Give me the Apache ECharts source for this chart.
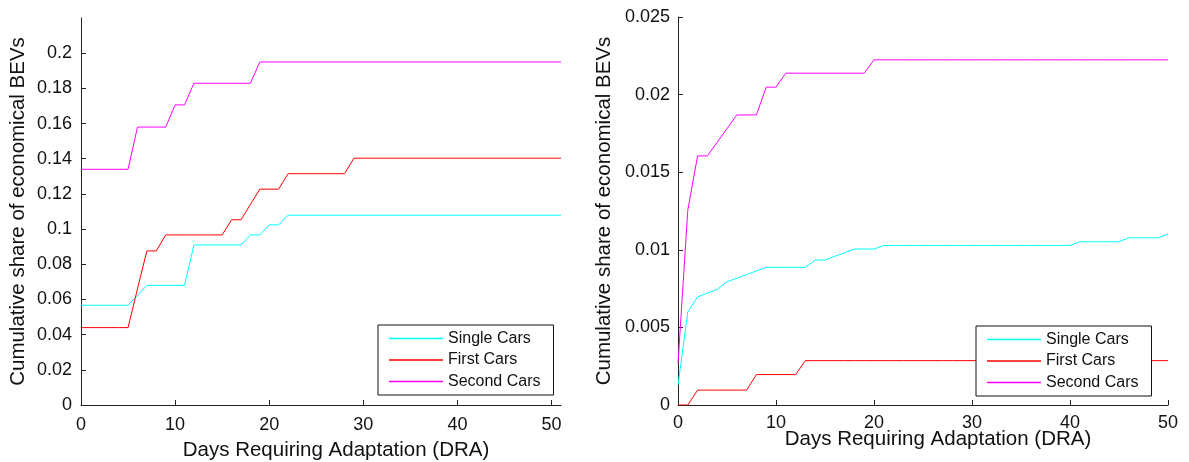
<!DOCTYPE html>
<html>
<head>
<meta charset="utf-8">
<script src="https://cdn.jsdelivr.net/npm/echarts@6/dist/echarts.min.js"></script>
<style>
html,body{margin:0;padding:0;background:#fff;}
#c{width:1189px;height:462px;}
</style>
</head>
<body>
<div id="c"></div>
<script>
// ---- Data ----
const seriesNames = ['Single Cars', 'First Cars', 'Second Cars'];
const seriesColors = ['#00ffff', '#ff0000', '#ff00ff'];

// Left panel: days 0..51
const leftDays = [0,1,2,3,4,5,6,7,8,9,10,11,12,13,14,15,16,17,18,19,20,21,22,23,24,25,26,27,28,29,30,31,32,33,34,35,36,37,38,39,40,41,42,43,44,45,46,47,48,49,50,51];
const leftSingle = [0.0567,0.0567,0.0567,0.0567,0.0567,0.0567,0.0624,0.068,0.068,0.068,0.068,0.068,0.091,0.091,0.091,0.091,0.091,0.091,0.0967,0.0967,0.1024,0.1024,0.1079,0.1079,0.1079,0.1079,0.1079,0.1079,0.1079,0.1079,0.1079,0.1079,0.1079,0.1079,0.1079,0.1079,0.1079,0.1079,0.1079,0.1079,0.1079,0.1079,0.1079,0.1079,0.1079,0.1079,0.1079,0.1079,0.1079,0.1079,0.1079,0.1079];
const leftFirst = [0.044,0.044,0.044,0.044,0.044,0.044,0.066,0.0876,0.0876,0.0967,0.0967,0.0967,0.0967,0.0967,0.0967,0.0967,0.1053,0.1053,0.114,0.1227,0.1227,0.1227,0.1315,0.1315,0.1315,0.1315,0.1315,0.1315,0.1315,0.1403,0.1403,0.1403,0.1403,0.1403,0.1403,0.1403,0.1403,0.1403,0.1403,0.1403,0.1403,0.1403,0.1403,0.1403,0.1403,0.1403,0.1403,0.1403,0.1403,0.1403,0.1403,0.1403];
const leftSecond = [0.134,0.134,0.134,0.134,0.134,0.134,0.158,0.158,0.158,0.158,0.1706,0.1706,0.1829,0.1829,0.1829,0.1829,0.1829,0.1829,0.1829,0.195,0.195,0.195,0.195,0.195,0.195,0.195,0.195,0.195,0.195,0.195,0.195,0.195,0.195,0.195,0.195,0.195,0.195,0.195,0.195,0.195,0.195,0.195,0.195,0.195,0.195,0.195,0.195,0.195,0.195,0.195,0.195,0.195];

// Right panel: days 0..50
const rightDays = [0,1,2,3,4,5,6,7,8,9,10,11,12,13,14,15,16,17,18,19,20,21,22,23,24,25,26,27,28,29,30,31,32,33,34,35,36,37,38,39,40,41,42,43,44,45,46,47,48,49,50];
const rightSingle = [0.00127,0.0060,0.00697,0.00721,0.00745,0.00794,0.00817,0.0084,0.00864,0.00887,0.00887,0.00887,0.00887,0.00887,0.00934,0.00934,0.00958,0.00981,0.01005,0.01005,0.01005,0.01028,0.01028,0.01028,0.01028,0.01028,0.01028,0.01028,0.01028,0.01028,0.01028,0.01028,0.01028,0.01028,0.01028,0.01028,0.01028,0.01028,0.01028,0.01028,0.01028,0.01052,0.01052,0.01052,0.01052,0.01052,0.01077,0.01077,0.01077,0.01077,0.01101];
const rightFirst = [0,0,0.00096,0.00096,0.00096,0.00096,0.00096,0.00096,0.00196,0.00196,0.00196,0.00196,0.00196,0.00286,0.00286,0.00286,0.00286,0.00286,0.00286,0.00286,0.00286,0.00286,0.00286,0.00286,0.00286,0.00286,0.00286,0.00286,0.00286,0.00286,0.00286,0.00286,0.00286,0.00286,0.00286,0.00286,0.00286,0.00286,0.00286,0.00286,0.00286,0.00286,0.00286,0.00286,0.00286,0.00286,0.00286,0.00286,0.00286,0.00286,0.00286];
const rightSecond = [0.00267,0.01256,0.01605,0.01605,0.01693,0.01781,0.01869,0.01869,0.01869,0.02048,0.02048,0.02138,0.02138,0.02138,0.02138,0.02138,0.02138,0.02138,0.02138,0.02138,0.02224,0.02224,0.02224,0.02224,0.02224,0.02224,0.02224,0.02224,0.02224,0.02224,0.02224,0.02224,0.02224,0.02224,0.02224,0.02224,0.02224,0.02224,0.02224,0.02224,0.02224,0.02224,0.02224,0.02224,0.02224,0.02224,0.02224,0.02224,0.02224,0.02224,0.02224];

// Tick labels
const leftXTicks = [0,10,20,30,40,50];
const leftYTicks = [0,0.02,0.04,0.06,0.08,0.1,0.12,0.14,0.16,0.18,0.2];
const rightXTicks = [0,10,20,30,40,50];
const rightYTicks = [0,0.005,0.01,0.015,0.02,0.025];

const xTitle = 'Days Requiring Adaptation (DRA)';
const yTitle = 'Cumulative share of economical BEVs';

// ---- Chart ----
const FONT = '"Liberation Sans", Arial, Helvetica, sans-serif';
const pair = (xs, ys) => xs.map((x, i) => [x, ys[i]]);

function xAxisOpt(gridIndex, max, ticks, nameGap, margin) {
  return {
    type: 'value', gridIndex, min: 0, max,
    splitLine: {show: false},
    axisLine: {show: true, onZero: false, lineStyle: {color: '#222', width: 1}},
    axisTick: {show: true, inside: true, length: 5, customValues: ticks, lineStyle: {color: '#222'}},
    axisLabel: {show: true, customValues: ticks, margin, color: '#111', fontSize: 18, fontFamily: FONT,
      formatter: v => String(v)},
    name: xTitle, nameLocation: 'middle', nameGap, nameMoveOverlap: false,
    nameTextStyle: {fontSize: 20.5, fontFamily: FONT, color: '#111', padding: [0, 0, 0, 30]}
  };
}
function yAxisOpt(gridIndex, max, ticks, nameGap, margin) {
  return {
    type: 'value', gridIndex, min: 0, max,
    splitLine: {show: false},
    axisLine: {show: true, onZero: false, lineStyle: {color: '#222', width: 1}},
    axisTick: {show: true, inside: true, length: 5, customValues: ticks, lineStyle: {color: '#222'}},
    axisLabel: {show: true, customValues: ticks, margin, color: '#111', fontSize: 18, fontFamily: FONT,
      formatter: v => String(parseFloat(v.toFixed(4)))},
    name: yTitle, nameLocation: 'middle', nameGap, nameRotate: 90, nameMoveOverlap: false,
    nameTextStyle: {fontSize: 20.5, fontFamily: FONT, color: '#111'}
  };
}
function lineSeries(name, color, xi, data) {
  return {
    name, type: 'line', xAxisIndex: xi, yAxisIndex: xi,
    data, showSymbol: false, symbol: 'none', animation: false,
    lineStyle: {color, width: 1}, itemStyle: {color}
  };
}
function legendOpt(left, top) {
  return {
    orient: 'vertical', left, top,
    data: seriesNames.map(n => ({name: n, icon: 'rect'})),
    itemWidth: 54, itemHeight: 1.5, itemGap: 5.5,
    padding: [5.5, 13, 5.5, 11],
    borderColor: '#111', borderWidth: 1, backgroundColor: '#fff',
    textStyle: {fontSize: 16, lineHeight: 16, fontFamily: FONT, color: '#111'},
    selectedMode: false, z: 10
  };
}

const chart = echarts.init(document.getElementById('c'), null, {renderer: 'canvas'});
chart.setOption({
  backgroundColor: '#fff',
  animation: false,
  grid: [
    {left: 81, top: 18, width: 480, height: 387, containLabel: false, outerBoundsMode: 'none'},
    {left: 678, top: 17, width: 490, height: 388, containLabel: false, outerBoundsMode: 'none'}
  ],
  xAxis: [
    xAxisOpt(0, 51, leftXTicks, 35, 11),
    xAxisOpt(1, 50, rightXTicks, 24, 9)
  ],
  yAxis: [
    yAxisOpt(0, 0.22, leftYTicks, 52, 9),
    yAxisOpt(1, 0.025, rightYTicks, 63, 8)
  ],
  legend: [legendOpt(378, 325), legendOpt(976, 326)],
  series: [
    lineSeries(seriesNames[0], seriesColors[0], 0, pair(leftDays, leftSingle)),
    lineSeries(seriesNames[1], seriesColors[1], 0, pair(leftDays, leftFirst)),
    lineSeries(seriesNames[2], seriesColors[2], 0, pair(leftDays, leftSecond)),
    lineSeries(seriesNames[0], seriesColors[0], 1, pair(rightDays, rightSingle)),
    lineSeries(seriesNames[1], seriesColors[1], 1, pair(rightDays, rightFirst)),
    lineSeries(seriesNames[2], seriesColors[2], 1, pair(rightDays, rightSecond))
  ]
});
</script>
</body>
</html>
